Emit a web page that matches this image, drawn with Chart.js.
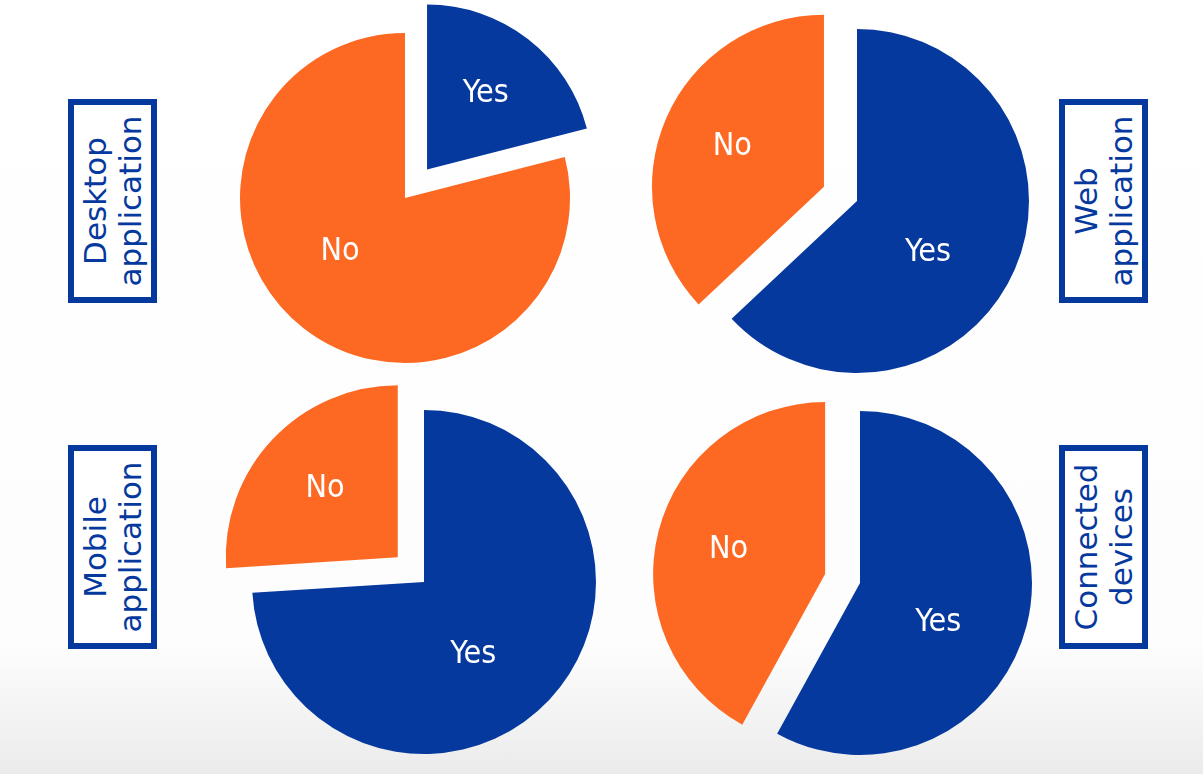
<!DOCTYPE html>
<html>
<head>
<meta charset="utf-8">
<title>Application types</title>
<script src="https://cdn.jsdelivr.net/npm/chart.js@4.4.1/dist/chart.umd.min.js"></script>
<style>
  html, body { margin: 0; padding: 0; }
  body {
    width: 1203px;
    height: 774px;
    position: relative;
    overflow: hidden;
    background: linear-gradient(to bottom, #ffffff 0px, #fdfdfd 645px, #ebebeb 774px);
    font-family: "DejaVu Sans", Verdana, sans-serif;
  }
  canvas { position: absolute; }
  .tag {
    position: absolute;
    width: 89px;
    height: 204px;
    box-sizing: border-box;
    border: 6px solid #06399e;
    background: #fff;
  }
  .tag span {
    display: block;
    position: absolute;
    left: 50%;
    top: 50%;
    width: 204px;
    height: 70px;
    margin-left: -102px;
    margin-top: -35px;
    line-height: 35px;
    text-align: center;
    white-space: nowrap;
    transform: rotate(-90deg);
    font-size: 31px;
    color: #06399e;
  }
</style>
</head>
<body>
<canvas id="desktop" width="440" height="440" style="left:185px;top:-22px"></canvas>
<canvas id="web" width="440" height="440" style="left:637px;top:-19px"></canvas>
<canvas id="mobile" width="440" height="440" style="left:204px;top:362px"></canvas>
<canvas id="connected" width="440" height="440" style="left:640px;top:363px"></canvas>

<div class="tag" id="tag-desktop" style="left:68px;top:99px"></div>
<div class="tag" id="tag-web" style="left:1059px;top:99px"></div>
<div class="tag" id="tag-mobile" style="left:68px;top:445px"></div>
<div class="tag" id="tag-connected" style="left:1059px;top:445px"></div>

<script>
const answers = ['Yes', 'No'];

// share of respondents (%) per platform, Yes first
const desktopShares = [21, 79];
const webShares = [63, 37];
const mobileShares = [74, 26];
const connectedShares = [58, 42];

const desktopName = ['Desktop', 'application'];
const webName = ['Web', 'application'];
const mobileName = ['Mobile', 'application'];
const connectedName = ['Connected', 'devices'];

const BLUE = '#06399e';
const ORANGE = '#fd6923';

// pulls one slice out along its bisector and writes Yes/No on the slices
const explodePlugin = {
  id: 'explode',
  beforeDatasetsDraw(chart, args, opts) {
    const arc = chart.getDatasetMeta(0).data[opts.index];
    const mid = (arc.startAngle + arc.endAngle) / 2;
    opts._dx = Math.cos(mid) * opts.distance;
    opts._dy = Math.sin(mid) * opts.distance;
    arc.x += opts._dx;
    arc.y += opts._dy;
  },
  afterDatasetsDraw(chart, args, opts) {
    const ctx = chart.ctx;
    const arcs = chart.getDatasetMeta(0).data;
    ctx.save();
    ctx.fillStyle = '#ffffff';
    ctx.font = '32px "DejaVu Sans Condensed", "DejaVu Sans"';
    ctx.textAlign = 'center';
    ctx.textBaseline = 'middle';
    arcs.forEach((arc, i) => {
      const sweep = arc.endAngle - arc.startAngle;
      const big = sweep > Math.PI;
      // large slices: label a little closer in and turned clockwise off the bisector
      const mid = (arc.startAngle + arc.endAngle) / 2 + (big ? 0.22 : 0);
      const r = arc.outerRadius * (big ? 0.51 : 0.58);
      ctx.fillText(chart.data.labels[i], arc.x + Math.cos(mid) * r, arc.y + Math.sin(mid) * r);
    });
    ctx.restore();
    const arc = arcs[opts.index];
    arc.x -= opts._dx;
    arc.y -= opts._dy;
  }
};

function makePie(id, shares, radius, pulled) {
  return new Chart(document.getElementById(id), {
    type: 'pie',
    data: {
      labels: answers,
      datasets: [{
        data: shares,
        backgroundColor: [BLUE, ORANGE],
        borderWidth: 0
      }]
    },
    options: {
      responsive: false,
      animation: false,
      radius: radius,
      layout: { padding: 0 },
      plugins: {
        legend: { display: false },
        tooltip: { enabled: false },
        explode: { index: pulled, distance: 36 }
      }
    },
    plugins: [explodePlugin]
  });
}

function fillTag(id, lines) {
  const span = document.createElement('span');
  span.innerHTML = lines.join('<br>');
  document.getElementById(id).appendChild(span);
}

makePie('desktop', desktopShares, 165, 0);
makePie('web', webShares, 172, 1);
makePie('mobile', mobileShares, 172, 1);
makePie('connected', connectedShares, 172, 1);

fillTag('tag-desktop', desktopName);
fillTag('tag-web', webName);
fillTag('tag-mobile', mobileName);
fillTag('tag-connected', connectedName);
</script>
</body>
</html>
